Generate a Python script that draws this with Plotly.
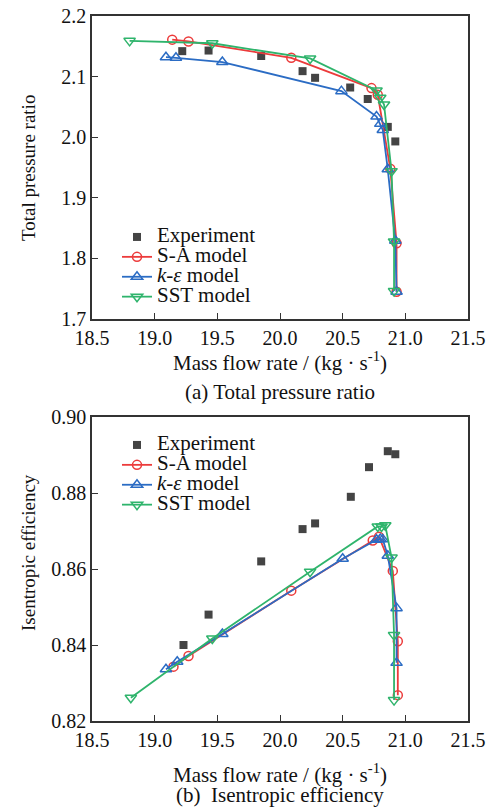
import plotly.graph_objects as go

# ---------------- data: (a) total pressure ratio ----------------
exp_a_x = [19.22, 19.43, 19.85, 20.18, 20.28, 20.56, 20.70, 20.86, 20.92]
exp_a_y = [2.142, 2.143, 2.134, 2.109, 2.098, 2.082, 2.063, 2.017, 1.993]

sa_a_x = [19.14, 19.27, 20.09, 20.73, 20.78, 20.88, 20.93, 20.93]
sa_a_y = [2.161, 2.158, 2.131, 2.081, 2.070, 1.948, 1.825, 1.745]

ke_a_x = [19.09, 19.17, 19.54, 20.49, 20.77, 20.80, 20.82, 20.86, 20.92, 20.93]
ke_a_y = [2.132, 2.131, 2.124, 2.076, 2.034, 2.022, 2.012, 1.947, 1.829, 1.745]

sst_a_x = [18.80, 19.46, 20.24, 20.77, 20.80, 20.83, 20.89, 20.91, 20.91]
sst_a_y = [2.159, 2.155, 2.130, 2.077, 2.065, 2.054, 1.944, 1.828, 1.746]

# ---------------- data: (b) isentropic efficiency ----------------
exp_b_x = [19.23, 19.43, 19.85, 20.18, 20.28, 20.565, 20.71, 20.86, 20.92]
exp_b_y = [0.8400, 0.8480, 0.8620, 0.8705, 0.8720, 0.8790, 0.8868, 0.8910, 0.8902]

sa_b_x = [19.15, 19.27, 20.09, 20.74, 20.79, 20.90, 20.94, 20.94]
sa_b_y = [0.8343, 0.8371, 0.8543, 0.8675, 0.8685, 0.8595, 0.8410, 0.8268]

ke_b_x = [19.09, 19.18, 19.54, 20.50, 20.77, 20.80, 20.82, 20.86, 20.93, 20.93]
ke_b_y = [0.8336, 0.8356, 0.8429, 0.8627, 0.8677, 0.8679, 0.8678, 0.8635, 0.8497, 0.8353]

sst_b_x = [18.81, 19.46, 20.24, 20.78, 20.81, 20.84, 20.89, 20.91, 20.91]
sst_b_y = [0.8261, 0.8417, 0.8593, 0.8712, 0.8712, 0.8715, 0.8630, 0.8426, 0.8255]

x_ticks = [18.5, 19.0, 19.5, 20.0, 20.5, 21.0, 21.5]
ya_ticks = [1.7, 1.8, 1.9, 2.0, 2.1, 2.2]
yb_ticks = [0.82, 0.84, 0.86, 0.88, 0.90]

names = ["Experiment", "S-A model", "<i>k</i>-<i>ε</i> model", "SST model"]

RED = "#ec3b3b"
BLUE = "#2b6cc4"
GREEN = "#2fb46c"
GRAY = "#444444"
FONT = "Liberation Serif"
TXT = "#111111"

W, H = 488, 807
def px_x(p):
    return p / W
def px_y(p):
    return 1 - p / H

def big(label):
    return '<span style="font-size:21px">' + label + '</span>'

fig = go.Figure()

def add_set(ex, ey, sx, sy, kx, ky, tx, ty, xa, ya, legend):
    fig.add_trace(go.Scatter(x=ex, y=ey, mode="markers", name=big(names[0]),
                             marker=dict(symbol="square", size=8, color=GRAY),
                             xaxis=xa, yaxis=ya, legend=legend))
    fig.add_trace(go.Scatter(x=sx, y=sy, mode="lines+markers", name=big(names[1]),
                             line=dict(color=RED, width=1.8),
                             marker=dict(symbol="circle-open", size=9, color=RED, line=dict(width=1.5)),
                             xaxis=xa, yaxis=ya, legend=legend))
    fig.add_trace(go.Scatter(x=kx, y=ky, mode="lines+markers", name=big(names[2]),
                             line=dict(color=BLUE, width=1.8),
                             marker=dict(symbol="triangle-up-open", size=10, color=BLUE, line=dict(width=1.5)),
                             xaxis=xa, yaxis=ya, legend=legend))
    fig.add_trace(go.Scatter(x=tx, y=ty, mode="lines+markers", name=big(names[3]),
                             line=dict(color=GREEN, width=1.8),
                             marker=dict(symbol="triangle-down-open", size=10, color=GREEN, line=dict(width=1.5)),
                             xaxis=xa, yaxis=ya, legend=legend))

add_set(exp_a_x, exp_a_y, sa_a_x, sa_a_y, ke_a_x, ke_a_y, sst_a_x, sst_a_y, "x", "y", "legend")
add_set(exp_b_x, exp_b_y, sa_b_x, sa_b_y, ke_b_x, ke_b_y, sst_b_x, sst_b_y, "x2", "y2", "legend2")

axis_common = dict(showline=True, linecolor="#333333", linewidth=1.5, mirror=True,
                   ticks="inside", ticklen=6, tickwidth=1.3, tickcolor="#333333",
                   showgrid=False, zeroline=False, automargin=False,
                   tickfont=dict(family=FONT, size=20, color=TXT))

xdom = [px_x(92), px_x(468)]
fig.update_layout(
    template="none",
    width=W, height=H,
    margin=dict(l=0, r=0, t=0, b=0, pad=0),
    paper_bgcolor="white", plot_bgcolor="white",
    font=dict(family=FONT, size=20, color=TXT),
    xaxis=dict(domain=xdom, range=[18.5, 21.5], tickvals=x_ticks,
               ticktext=[f"{v:.1f}" for v in x_ticks], anchor="y", **axis_common),
    yaxis=dict(domain=[px_y(319), px_y(16)], range=[1.7, 2.2], tickvals=ya_ticks,
               ticktext=[f"{v:.1f}" for v in ya_ticks], anchor="x", **axis_common),
    xaxis2=dict(domain=xdom, range=[18.5, 21.5], tickvals=x_ticks,
                ticktext=[f"{v:.1f}" for v in x_ticks], anchor="y2", **axis_common),
    yaxis2=dict(domain=[px_y(721), px_y(417)], range=[0.82, 0.90], tickvals=yb_ticks,
                ticktext=[f"{v:.2f}" for v in yb_ticks], anchor="x2", **axis_common),
    legend=dict(x=px_x(117), y=px_y(222), xanchor="left", yanchor="top",
                bgcolor="rgba(0,0,0,0)", borderwidth=0, font=dict(family=FONT, size=13, color=TXT),
                tracegroupgap=0, itemwidth=30),
    legend2=dict(x=px_x(117), y=px_y(430), xanchor="left", yanchor="top",
                 bgcolor="rgba(0,0,0,0)", borderwidth=0, font=dict(family=FONT, size=13, color=TXT),
                 tracegroupgap=0, itemwidth=30),
    showlegend=True,
)

ann_font = dict(family=FONT, size=21, color=TXT)
annotations = [
    dict(text="Mass flow rate / (kg · s<sup>-1</sup>)", x=px_x(280), y=px_y(362)),
    dict(text="(a) Total pressure ratio", x=px_x(280), y=px_y(392)),
    dict(text="Mass flow rate / (kg · s<sup>-1</sup>)", x=px_x(280), y=px_y(773)),
    dict(text="(b)  Isentropic efficiency", x=px_x(280), y=px_y(795)),
]
for a in annotations:
    fig.add_annotation(xref="paper", yref="paper", showarrow=False,
                       xanchor="center", yanchor="middle", font=ann_font, **a)
for a in [dict(text="Total pressure ratio", x=px_x(28), y=px_y(168)),
          dict(text="Isentropic efficiency", x=px_x(28), y=px_y(553))]:
    fig.add_annotation(xref="paper", yref="paper", showarrow=False, textangle=-90,
                       xanchor="center", yanchor="middle",
                       font=dict(family=FONT, size=19, color=TXT), **a)

fig.write_html("out.html", config={"displayModeBar": False},
               post_script="document.body.style.margin='0px';document.body.style.overflow='hidden';")
